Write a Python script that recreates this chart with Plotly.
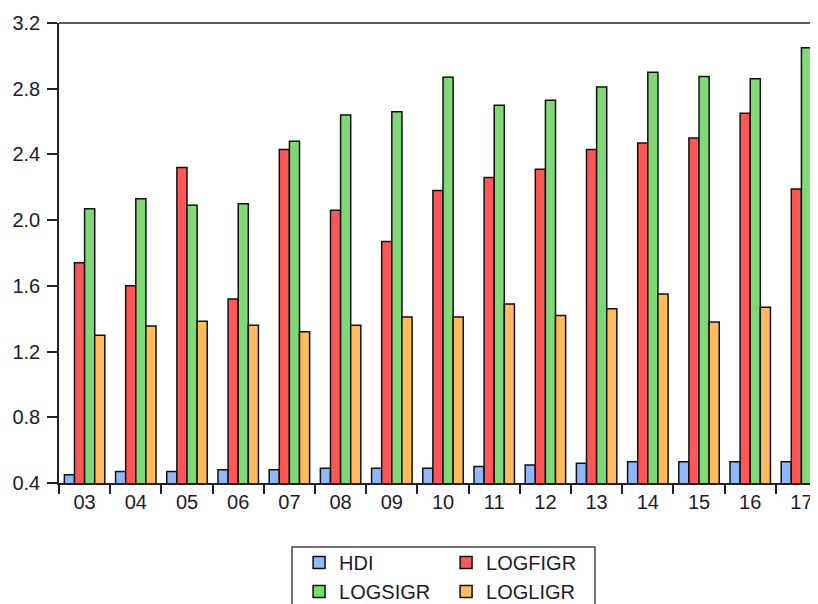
import plotly.graph_objects as go

years = ["03", "04", "05", "06", "07", "08", "09", "10", "11", "12", "13", "14", "15", "16", "17"]
hdi = [0.45, 0.47, 0.47, 0.48, 0.48, 0.49, 0.49, 0.49, 0.50, 0.51, 0.52, 0.53, 0.53, 0.53, 0.53]
logfigr = [1.74, 1.60, 2.32, 1.52, 2.43, 2.06, 1.87, 2.18, 2.26, 2.31, 2.43, 2.47, 2.50, 2.65, 2.19]
logsigr = [2.07, 2.13, 2.09, 2.10, 2.48, 2.64, 2.66, 2.87, 2.70, 2.73, 2.81, 2.90, 2.875, 2.86, 3.05]
logligr = [1.30, 1.355, 1.385, 1.36, 1.32, 1.36, 1.41, 1.41, 1.49, 1.42, 1.46, 1.55, 1.38, 1.47, 1.64]
yticks = [0.4, 0.8, 1.2, 1.6, 2.0, 2.4, 2.8, 3.2]

series = [
    ("HDI", hdi, "#8fb8fa", "legend"),
    ("LOGFIGR", logfigr, "#ff5757", "legend"),
    ("LOGSIGR", logsigr, "#80d975", "legend2"),
    ("LOGLIGR", logligr, "#ffbb5c", "legend2"),
]

fig = go.Figure()
for name, vals, col, lg in series:
    fig.add_trace(go.Bar(
        x=years, y=vals, name=name, legend=lg,
        marker=dict(color=col, line=dict(color="#111111", width=1.5)),
    ))

legend_common = dict(
    orientation="h", xanchor="left", yanchor="top",
    borderwidth=0, bgcolor="rgba(0,0,0,0)",
    font=dict(size=20, color="#1c1c2c"),
    entrywidth=102, entrywidthmode="pixels",
    traceorder="normal", itemclick=False,
)

fig.update_layout(
    width=818, height=604,
    margin=dict(l=51, r=0, t=15, b=129, autoexpand=False),
    paper_bgcolor="white", plot_bgcolor="white",
    barmode="group", bargap=0.21, bargroupgap=0,
    font=dict(family="Liberation Sans, Arial", size=20, color="#1c1c2c"),
    showlegend=True,
    legend=dict(x=0.313, y=-0.1304, **legend_common),
    legend2=dict(x=0.313, y=-0.1935, **legend_common),
    xaxis=dict(
        type="category", range=[-0.5, 14.48], automargin=False,
        tickson="boundaries", ticks="outside", ticklen=9, tickwidth=1.5, tickcolor="#222",
        showline=True, linecolor="#222", linewidth=1.5, showgrid=False,
        tickfont=dict(size=20),
    ),
    yaxis=dict(
        range=[0.4, 3.2], tickvals=yticks,
        ticktext=[f"{v:.1f}" for v in yticks], automargin=False,
        ticks="outside", ticklen=10, tickwidth=1.5, tickcolor="#222",
        ticklabelstandoff=3,
        showline=True, linecolor="#222", linewidth=1.5, showgrid=False, zeroline=False,
        tickfont=dict(size=20),
    ),
    shapes=[
        dict(type="line", xref="paper", yref="paper", x0=0, x1=1, y0=1, y1=1,
             line=dict(color="#222", width=1.5)),
        dict(type="rect", xref="paper", yref="paper", x0=0.3038, x1=0.6988, y0=-0.139, y1=-0.32,
             line=dict(color="#444", width=1.5), fillcolor="rgba(0,0,0,0)"),
    ],
)

fig.write_html("out.html")
